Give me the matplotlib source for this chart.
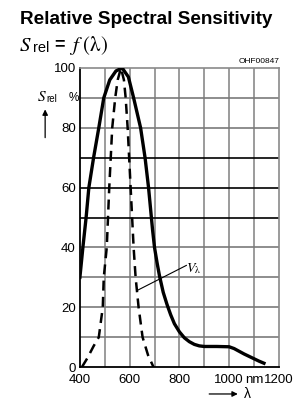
import matplotlib.pyplot as plt

# Relative spectral sensitivity (solid) and V-lambda eye curve (dashed)
wl_srel = [400, 412, 425, 436, 455, 476, 496, 520, 545, 570, 595, 616, 630,
           644, 662, 676, 684, 692, 700, 710, 720, 735, 750, 765, 780, 800,
           820, 840, 860, 880, 900, 950, 1000, 1020, 1040, 1060, 1080, 1100,
           1120, 1140]
srel = [30, 40, 50, 60, 70, 80, 90, 96, 99, 100, 97, 90, 85,
        80, 70, 60, 53, 46, 40, 35, 30.5, 25, 21, 17.5, 14.5, 11.8,
        9.8, 8.5, 7.6, 7.1, 6.9, 6.9, 6.8, 6.2, 5.3, 4.4, 3.6, 2.8,
        2.0, 1.3]

wl_v = [408, 430, 455, 476, 484, 492, 496, 508, 513, 518, 524, 530, 542,
        552, 565, 577, 584, 592, 598, 604, 610, 616, 624, 636, 652, 674, 696]
v_lambda = [0, 3, 7, 10, 15, 20, 30, 40, 50, 60, 70, 80, 90,
            96, 100, 96, 90, 80, 70, 60, 50, 40, 30, 20, 10, 4, 0]

x_ticks = [400, 600, 800, 1000, 1100, 1200]
x_labels = ["400", "600", "800", "1000", "nm", "1200"]
y_ticks = [0, 20, 40, 60, 80, 100]

plt.rcParams['font.family'] = ['Liberation Sans', 'DejaVu Sans']
plt.rcParams['mathtext.fontset'] = 'stix'

fig = plt.figure(figsize=(2.97, 4.07), dpi=100)
ax = fig.add_axes([0.269, 0.098, 0.670, 0.735])

# grid
for x in range(500, 1200, 100):
    ax.axvline(x, color="#8a8a8a", lw=1.2, zorder=1)
for y in range(10, 100, 10):
    c = "black" if y in (50, 60, 70) else "#7a7a7a"
    ax.axhline(y, color=c, lw=1.2, zorder=1)

ax.plot(wl_srel, srel, color="black", lw=2.4, zorder=3)
ax.plot(wl_v, v_lambda, color="black", lw=1.8, ls=(0, (4, 2.5)), zorder=3)

ax.set_xlim(400, 1200)
ax.set_ylim(0, 100)
ax.set_xticks(x_ticks)
ax.set_xticklabels(x_labels)
ax.set_yticks(y_ticks)
ax.tick_params(length=0, labelsize=9.5)
ax.tick_params(axis="x", pad=5)
ax.tick_params(axis="y", pad=3)
for s in ("top", "right"):
    ax.spines[s].set_color("#8a8a8a")
    ax.spines[s].set_linewidth(1.2)
for s in ("left", "bottom"):
    ax.spines[s].set_linewidth(1.3)

# V_lambda label
ax.plot([632, 828], [25.7, 34], color="black", lw=0.8, zorder=3)
ax.text(828, 33, r"$V_{\mathrm{\lambda}}$", fontsize=10, ha="left", va="center")

# titles
fig.text(0.067, 0.951, "Relative Spectral Sensitivity", fontsize=13.6,
         fontweight="bold", ha="left", va="center")
fig.text(0.064, 0.889, r"$S$", fontsize=15, ha="left", va="center")
fig.text(0.112, 0.881, "rel", fontsize=10.5, ha="left", va="center")
fig.text(0.183, 0.889, "=", fontsize=13, fontweight="bold", ha="left", va="center")
fig.text(0.232, 0.889, r"$f\ (\mathrm{\lambda})$", fontsize=15, ha="left", va="center")

fig.text(0.94, 0.848, "OHF00847", fontsize=6, ha="right", va="center")

# y axis label with arrow
fig.text(0.125, 0.762, r"$S$", fontsize=11, ha="left", va="center")
fig.text(0.157, 0.756, "rel", fontsize=7, ha="left", va="center")
fig.text(0.232, 0.759, "%", fontsize=8.5, ha="left", va="center")
ax.annotate("", xy=(0.152, 0.738), xytext=(0.152, 0.655), xycoords="figure fraction",
            textcoords="figure fraction", annotation_clip=False,
            arrowprops=dict(arrowstyle="-|>", color="black", lw=0.9, mutation_scale=8))

# x axis arrow with lambda
ax.annotate("", xy=(0.81, 0.032), xytext=(0.695, 0.032), xycoords="figure fraction",
            textcoords="figure fraction", annotation_clip=False,
            arrowprops=dict(arrowstyle="-|>", color="black", lw=0.9, mutation_scale=8))
fig.text(0.82, 0.032, "λ", fontsize=10, ha="left", va="center")

fig.savefig("out.png", dpi=100)
